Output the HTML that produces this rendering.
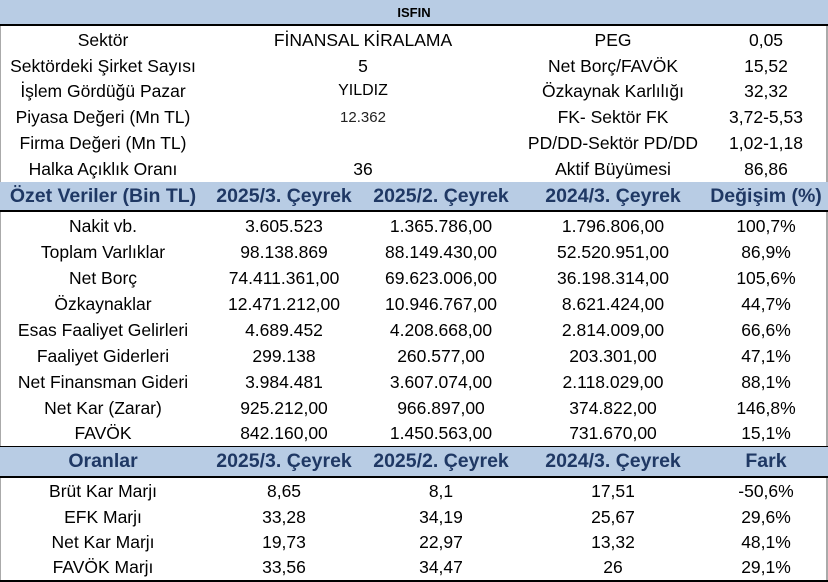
<!DOCTYPE html>
<html><head><meta charset="utf-8"><style>
*{margin:0;padding:0;box-sizing:border-box}
body{width:828px;height:582px;background:#fff;overflow:hidden;font-family:"Liberation Sans",Arial,sans-serif;color:#000;position:relative}
.r{position:absolute;left:0;width:828px}
.c{position:absolute;top:0;height:100%;display:flex;align-items:center;justify-content:center;white-space:nowrap;font-size:17.5px}
.h{background:#b8cce4}
.h .c{font-weight:bold;color:#1f3864;font-size:19.5px;letter-spacing:0}
.bl{position:absolute;left:0;width:828px;height:2px;background:#000}
</style></head><body>
<div style="position:absolute;left:0;top:0;width:1px;height:582px;background:#aaa"></div>
<div style="position:absolute;right:0;top:0;width:2px;height:582px;background:#aaa"></div>
<div class="r h" style="top:0;height:24px"><div class="c" style="left:0;width:828px;font-size:13px;color:#000;letter-spacing:0">ISFIN</div></div>
<div class="bl" style="top:24px"></div>

<div class="r" style="top:27px;height:26px"><div class="c" style="left:0;width:206px">Sektör</div><div class="c" style="left:206px;width:314px">FİNANSAL KİRALAMA</div><div class="c" style="left:520px;width:186px">PEG</div><div class="c" style="left:706px;width:120px">0,05</div></div>
<div class="r" style="top:53px;height:26px"><div class="c" style="left:0;width:206px">Sektördeki Şirket Sayısı</div><div class="c" style="left:206px;width:314px">5</div><div class="c" style="left:520px;width:186px">Net Borç/FAVÖK</div><div class="c" style="left:706px;width:120px">15,52</div></div>
<div class="r" style="top:78px;height:26px"><div class="c" style="left:0;width:206px">İşlem Gördüğü Pazar</div><div class="c" style="left:206px;width:314px;font-size:16px">YILDIZ</div><div class="c" style="left:520px;width:186px">Özkaynak Karlılığı</div><div class="c" style="left:706px;width:120px">32,32</div></div>
<div class="r" style="top:104px;height:26px"><div class="c" style="left:0;width:206px">Piyasa Değeri (Mn TL)</div><div class="c" style="left:206px;width:314px;font-size:15px;color:#222">12.362</div><div class="c" style="left:520px;width:186px">FK- Sektör FK</div><div class="c" style="left:706px;width:120px">3,72-5,53</div></div>
<div class="r" style="top:130px;height:26px"><div class="c" style="left:0;width:206px">Firma Değeri (Mn TL)</div><div class="c" style="left:520px;width:186px">PD/DD-Sektör PD/DD</div><div class="c" style="left:706px;width:120px">1,02-1,18</div></div>
<div class="r" style="top:156px;height:26px"><div class="c" style="left:0;width:206px">Halka Açıklık Oranı</div><div class="c" style="left:206px;width:314px">36</div><div class="c" style="left:520px;width:186px">Aktif Büyümesi</div><div class="c" style="left:706px;width:120px">86,86</div></div>

<div class="r h" style="top:182px;height:28px"><div class="c" style="left:0;width:206px">Özet Veriler (Bin TL)</div><div class="c" style="left:206px;width:156px">2025/3. Çeyrek</div><div class="c" style="left:362px;width:158px">2025/2. Çeyrek</div><div class="c" style="left:520px;width:186px">2024/3. Çeyrek</div><div class="c" style="left:706px;width:120px">Değişim (%)</div></div>
<div class="bl" style="top:210px"></div>

<div class="r" style="top:213px;height:26px"><div class="c" style="left:0;width:206px">Nakit vb.</div><div class="c" style="left:206px;width:156px">3.605.523</div><div class="c" style="left:362px;width:158px">1.365.786,00</div><div class="c" style="left:520px;width:186px">1.796.806,00</div><div class="c" style="left:706px;width:120px">100,7%</div></div>
<div class="r" style="top:239px;height:26px"><div class="c" style="left:0;width:206px">Toplam Varlıklar</div><div class="c" style="left:206px;width:156px">98.138.869</div><div class="c" style="left:362px;width:158px">88.149.430,00</div><div class="c" style="left:520px;width:186px">52.520.951,00</div><div class="c" style="left:706px;width:120px">86,9%</div></div>
<div class="r" style="top:265px;height:26px"><div class="c" style="left:0;width:206px">Net Borç</div><div class="c" style="left:206px;width:156px">74.411.361,00</div><div class="c" style="left:362px;width:158px">69.623.006,00</div><div class="c" style="left:520px;width:186px">36.198.314,00</div><div class="c" style="left:706px;width:120px">105,6%</div></div>
<div class="r" style="top:291px;height:26px"><div class="c" style="left:0;width:206px">Özkaynaklar</div><div class="c" style="left:206px;width:156px">12.471.212,00</div><div class="c" style="left:362px;width:158px">10.946.767,00</div><div class="c" style="left:520px;width:186px">8.621.424,00</div><div class="c" style="left:706px;width:120px">44,7%</div></div>
<div class="r" style="top:317px;height:26px"><div class="c" style="left:0;width:206px">Esas Faaliyet Gelirleri</div><div class="c" style="left:206px;width:156px">4.689.452</div><div class="c" style="left:362px;width:158px">4.208.668,00</div><div class="c" style="left:520px;width:186px">2.814.009,00</div><div class="c" style="left:706px;width:120px">66,6%</div></div>
<div class="r" style="top:343px;height:26px"><div class="c" style="left:0;width:206px">Faaliyet Giderleri</div><div class="c" style="left:206px;width:156px">299.138</div><div class="c" style="left:362px;width:158px">260.577,00</div><div class="c" style="left:520px;width:186px">203.301,00</div><div class="c" style="left:706px;width:120px">47,1%</div></div>
<div class="r" style="top:369px;height:26px"><div class="c" style="left:0;width:206px">Net Finansman Gideri</div><div class="c" style="left:206px;width:156px">3.984.481</div><div class="c" style="left:362px;width:158px">3.607.074,00</div><div class="c" style="left:520px;width:186px">2.118.029,00</div><div class="c" style="left:706px;width:120px">88,1%</div></div>
<div class="r" style="top:395px;height:26px"><div class="c" style="left:0;width:206px">Net Kar (Zarar)</div><div class="c" style="left:206px;width:156px">925.212,00</div><div class="c" style="left:362px;width:158px">966.897,00</div><div class="c" style="left:520px;width:186px">374.822,00</div><div class="c" style="left:706px;width:120px">146,8%</div></div>
<div class="r" style="top:421px;height:25px"><div class="c" style="left:0;width:206px">FAVÖK</div><div class="c" style="left:206px;width:156px">842.160,00</div><div class="c" style="left:362px;width:158px">1.450.563,00</div><div class="c" style="left:520px;width:186px">731.670,00</div><div class="c" style="left:706px;width:120px">15,1%</div></div>
<div style="position:absolute;left:0;top:446px;width:828px;height:1px;background:#000"></div>

<div class="r h" style="top:447px;height:29px"><div class="c" style="left:0;width:206px">Oranlar</div><div class="c" style="left:206px;width:156px">2025/3. Çeyrek</div><div class="c" style="left:362px;width:158px">2025/2. Çeyrek</div><div class="c" style="left:520px;width:186px">2024/3. Çeyrek</div><div class="c" style="left:706px;width:120px">Fark</div></div>
<div class="bl" style="top:476px"></div>

<div class="r" style="top:479px;height:25px"><div class="c" style="left:0;width:206px">Brüt Kar Marjı</div><div class="c" style="left:206px;width:156px">8,65</div><div class="c" style="left:362px;width:158px">8,1</div><div class="c" style="left:520px;width:186px">17,51</div><div class="c" style="left:706px;width:120px">-50,6%</div></div>
<div class="r" style="top:504px;height:26px"><div class="c" style="left:0;width:206px">EFK Marjı</div><div class="c" style="left:206px;width:156px">33,28</div><div class="c" style="left:362px;width:158px">34,19</div><div class="c" style="left:520px;width:186px">25,67</div><div class="c" style="left:706px;width:120px">29,6%</div></div>
<div class="r" style="top:530px;height:25px"><div class="c" style="left:0;width:206px">Net Kar Marjı</div><div class="c" style="left:206px;width:156px">19,73</div><div class="c" style="left:362px;width:158px">22,97</div><div class="c" style="left:520px;width:186px">13,32</div><div class="c" style="left:706px;width:120px">48,1%</div></div>
<div class="r" style="top:555px;height:25px"><div class="c" style="left:0;width:206px">FAVÖK Marjı</div><div class="c" style="left:206px;width:156px">33,56</div><div class="c" style="left:362px;width:158px">34,47</div><div class="c" style="left:520px;width:186px">26</div><div class="c" style="left:706px;width:120px">29,1%</div></div>
<div style="position:absolute;left:0;top:580px;width:828px;height:2px;background:#000"></div>
</body></html>
